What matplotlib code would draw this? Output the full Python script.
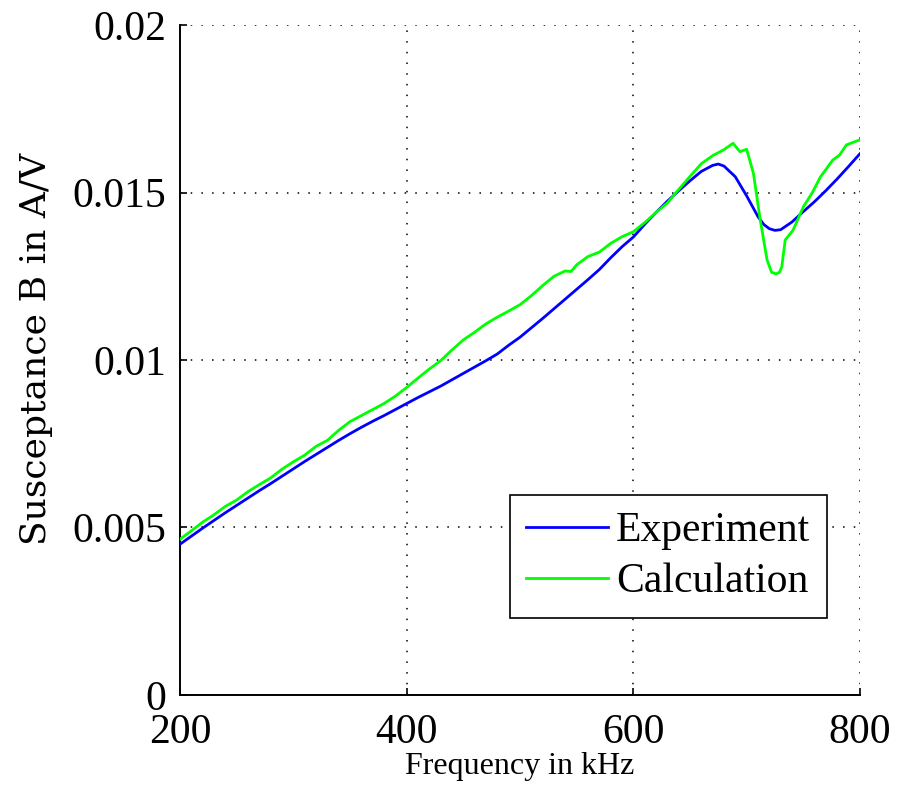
import matplotlib
matplotlib.use("Agg")
import matplotlib.pyplot as plt

# Measured susceptance (Experiment)
freq_exp = [200, 210, 220, 230, 240, 250, 260, 270, 280, 290,
            300, 310, 320, 330, 340, 350, 360, 370, 380, 390,
            400, 410, 420, 430, 440, 450, 460, 470, 480, 490,
            500, 510, 520, 530, 540, 550, 560, 570, 580, 590,
            600, 610, 620, 630, 640, 650, 660, 670, 675, 680,
            690, 700, 710, 715, 720, 725, 730, 740, 750, 760,
            770, 780, 790, 800]
b_exp = [0.00450, 0.00474, 0.00498, 0.00521, 0.00544, 0.00566, 0.00588, 0.00610, 0.00631, 0.00653,
         0.00675, 0.00697, 0.00718, 0.00739, 0.00760, 0.00780, 0.00799, 0.00817, 0.00834, 0.00852,
         0.00870, 0.00888, 0.00905, 0.00922, 0.00941, 0.00960, 0.00979, 0.00998, 0.01018, 0.01044,
         0.01068, 0.01096, 0.01124, 0.01153, 0.01182, 0.01211, 0.01240, 0.01270, 0.01305, 0.01338,
         0.01367, 0.01405, 0.01440, 0.01474, 0.01505, 0.01535, 0.01563, 0.01581, 0.01585, 0.01579,
         0.01547, 0.01490, 0.01428, 0.01405, 0.01392, 0.01387, 0.01389, 0.01412, 0.01443, 0.01473,
         0.01506, 0.01541, 0.01578, 0.01616]

# Computed susceptance (Calculation)
freq_calc = [200, 210, 220, 230, 240, 250, 260, 270, 280, 290,
             300, 310, 320, 330, 340, 350, 360, 370, 380, 390,
             400, 410, 420, 430, 440, 450, 460, 470, 480, 490,
             500, 510, 520, 530, 540, 545, 550, 560, 570, 580,
             590, 600, 610, 620, 630, 640, 650, 660, 670, 680,
             688, 694, 700, 706, 712, 718, 722, 726, 729, 731,
             734, 741, 750, 758, 765, 776, 782, 788, 794, 800]
b_calc = [0.00465, 0.00490, 0.00516, 0.00538, 0.00563, 0.00582, 0.00607, 0.00628, 0.00648, 0.00674,
          0.00696, 0.00716, 0.00742, 0.00760, 0.00790, 0.00816, 0.00834, 0.00852, 0.00870, 0.00892,
          0.00918, 0.00946, 0.00973, 0.00998, 0.01030, 0.01060, 0.01083, 0.01108, 0.01128, 0.01146,
          0.01165, 0.01192, 0.01222, 0.01250, 0.01266, 0.01264, 0.01284, 0.01309, 0.01322, 0.01348,
          0.01368, 0.01383, 0.01410, 0.01440, 0.01469, 0.01509, 0.01548, 0.01586, 0.01610, 0.01628,
          0.01647, 0.01622, 0.01629, 0.01557, 0.01418, 0.01299, 0.01262, 0.01257, 0.01262, 0.01278,
          0.01358, 0.01388, 0.01457, 0.01500, 0.01546, 0.01597, 0.01612, 0.01642, 0.01650, 0.01657]

x_ticks = [200, 400, 600, 800]
y_ticks = [0, 0.005, 0.01, 0.015, 0.02]
y_tick_labels = ["0", "0.005", "0.01", "0.015", "0.02"]

fig = plt.figure(figsize=(9.04, 7.97), dpi=100)
ax = fig.add_axes([0.1991, 0.128, 0.7522, 0.8406])

ax.plot(freq_exp, b_exp, color=(0, 0, 1), lw=2.0, label="Experiment", zorder=3)
ax.plot(freq_calc, b_calc, color=(0, 1, 0), lw=2.0, label="Calculation", zorder=3)

ax.set_xlim(200, 800)
ax.set_ylim(0, 0.02)
ax.set_xticks(x_ticks)
ax.set_yticks(y_ticks)
ax.set_yticklabels(y_tick_labels)

for lab in ax.get_xticklabels() + ax.get_yticklabels():
    lab.set_fontfamily("Liberation Serif")
    lab.set_fontsize(30)

ax.tick_params(direction="in", length=5, width=1.2, top=False, right=False)
ax.tick_params(axis="x", pad=13)
ax.tick_params(axis="y", pad=10)
for side in ("top", "right"):
    ax.spines[side].set_visible(False)
for side in ("left", "bottom"):
    ax.spines[side].set_linewidth(1.4)

ax.grid(True, color="black", linestyle=(0, (1, 6)), linewidth=1.1)
ax.set_axisbelow(True)

ax.set_xlabel("Frequency in kHz", fontfamily="Liberation Serif", fontsize=23, labelpad=0)
ax.set_ylabel("Susceptance B in A/V", fontfamily="DejaVu Serif", fontsize=26)
ax.yaxis.set_label_coords(-0.187, 0.517)

leg = ax.legend(loc="lower right", bbox_to_anchor=(0.951, 0.115), fancybox=False,
                framealpha=1, edgecolor="black", handlelength=1.95, handletextpad=0.2,
                borderpad=0.4, labelspacing=0.3, borderaxespad=0,
                prop={"family": "Liberation Serif", "size": 30})
leg.get_frame().set_linewidth(1.2)

fig.savefig("out.png", dpi=100)
